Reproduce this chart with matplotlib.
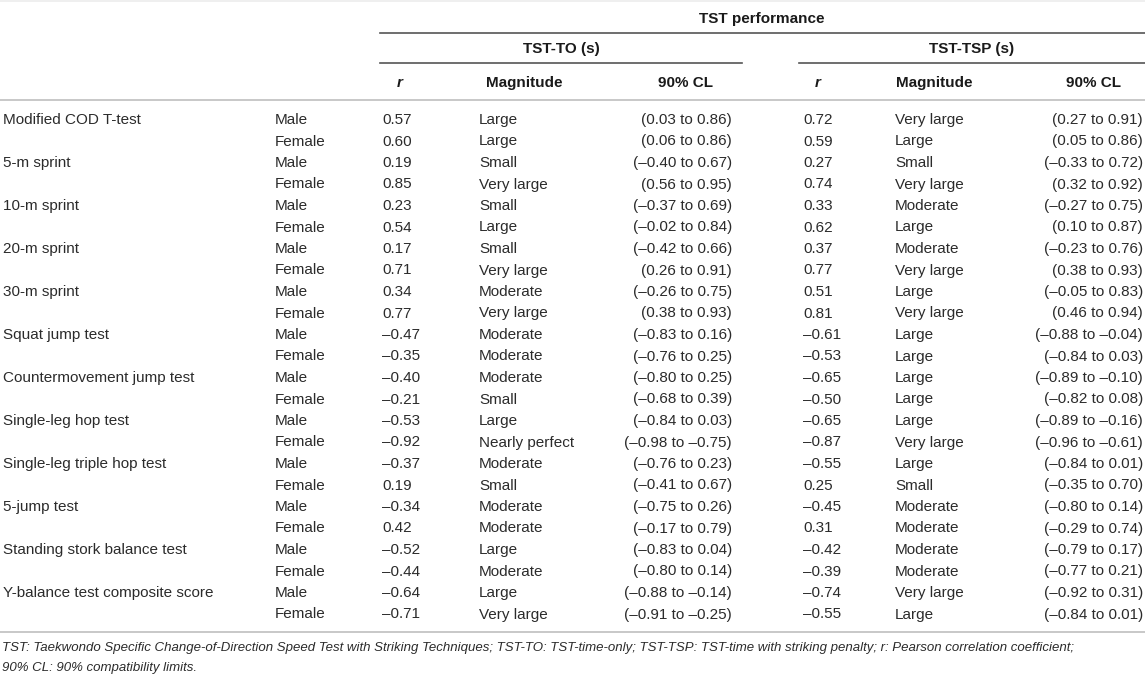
import matplotlib
matplotlib.use("Agg")
import matplotlib.pyplot as plt

plt.rcParams['font.family'] = ['Liberation Sans', 'DejaVu Sans']

# table data
tests = ["Modified COD T-test", "5-m sprint", "10-m sprint", "20-m sprint",
         "30-m sprint", "Squat jump test", "Countermovement jump test",
         "Single-leg hop test", "Single-leg triple hop test", "5-jump test",
         "Standing stork balance test", "Y-balance test composite score"]
sexes = ["Male", "Female"]

to_r = [0.57, 0.60, 0.19, 0.85, 0.23, 0.54, 0.17, 0.71, 0.34, 0.77,
        -0.47, -0.35, -0.40, -0.21, -0.53, -0.92, -0.37, 0.19, -0.34, 0.42,
        -0.52, -0.44, -0.64, -0.71]
to_mag = ["Large", "Large", "Small", "Very large", "Small", "Large",
          "Small", "Very large", "Moderate", "Very large", "Moderate", "Moderate",
          "Moderate", "Small", "Large", "Nearly perfect", "Moderate", "Small",
          "Moderate", "Moderate", "Large", "Moderate", "Large", "Very large"]
to_lo = [0.03, 0.06, -0.40, 0.56, -0.37, -0.02, -0.42, 0.26, -0.26, 0.38,
         -0.83, -0.76, -0.80, -0.68, -0.84, -0.98, -0.76, -0.41, -0.75, -0.17,
         -0.83, -0.80, -0.88, -0.91]
to_hi = [0.86, 0.86, 0.67, 0.95, 0.69, 0.84, 0.66, 0.91, 0.75, 0.93,
         0.16, 0.25, 0.25, 0.39, 0.03, -0.75, 0.23, 0.67, 0.26, 0.79,
         0.04, 0.14, -0.14, -0.25]

tsp_r = [0.72, 0.59, 0.27, 0.74, 0.33, 0.62, 0.37, 0.77, 0.51, 0.81,
         -0.61, -0.53, -0.65, -0.50, -0.65, -0.87, -0.55, 0.25, -0.45, 0.31,
         -0.42, -0.39, -0.74, -0.55]
tsp_mag = ["Very large", "Large", "Small", "Very large", "Moderate", "Large",
           "Moderate", "Very large", "Large", "Very large", "Large", "Large",
           "Large", "Large", "Large", "Very large", "Large", "Small",
           "Moderate", "Moderate", "Moderate", "Moderate", "Very large", "Large"]
tsp_lo = [0.27, 0.05, -0.33, 0.32, -0.27, 0.10, -0.23, 0.38, -0.05, 0.46,
          -0.88, -0.84, -0.89, -0.82, -0.89, -0.96, -0.84, -0.35, -0.80, -0.29,
          -0.79, -0.77, -0.92, -0.84]
tsp_hi = [0.91, 0.86, 0.72, 0.92, 0.75, 0.87, 0.76, 0.93, 0.83, 0.94,
          -0.04, 0.03, -0.10, 0.08, -0.16, -0.61, 0.01, 0.70, 0.14, 0.74,
          0.17, 0.21, 0.31, 0.01]

footnote = ["TST: Taekwondo Specific Change-of-Direction Speed Test with Striking "
            "Techniques; TST-TO: TST-time-only; TST-TSP: TST-time with striking "
            "penalty; r: Pearson correlation coefficient;",
            "90% CL: 90% compatibility limits."]


def fmt(v):
    s = f"{abs(v):.2f}"
    return "\u2013" + s if v < 0 else s


W, H = 1145, 677
fig = plt.figure(figsize=(W / 100, H / 100), dpi=100)
ax = fig.add_axes([0, 0, 1, 1])
ax.set_xlim(0, W)
ax.set_ylim(H, 0)
ax.axis("off")

dark = "#555555"
light = "#c4c4c4"
txt = "#2b2b2b"
fs = 11

# rules
ax.plot([0, W], [1, 1], color="#ececec", lw=1.2)
ax.plot([380, W], [33, 33], color=dark, lw=1.2)
ax.plot([380, 742], [63, 63], color=dark, lw=1.2)
ax.plot([799, W], [63, 63], color=dark, lw=1.2)
ax.plot([0, W], [100, 100], color=light, lw=1.3)
ax.plot([0, W], [632, 632], color=light, lw=1.3)

# header
hd = dict(fontsize=fs, fontweight="bold", color="#1a1a1a", va="center", ha="center")
ax.text(762, 19, "TST performance", **hd)
ax.text(561, 49, "TST-TO (s)", **hd)
ax.text(972, 49, "TST-TSP (s)", **hd)
ax.text(400, 83, "r", style="italic", **hd)
ax.text(486, 83, "Magnitude", **{**hd, "ha": "left"})
ax.text(685, 83, "90% CL", **hd)
ax.text(818, 83, "r", style="italic", **hd)
ax.text(896, 83, "Magnitude", **{**hd, "ha": "left"})
ax.text(1093, 83, "90% CL", **hd)

# body
y0, dy = 120, 21.5
cell = dict(fontsize=fs, color=txt, va="center")
for i in range(len(to_r)):
    y = y0 + i * dy
    if i % 2 == 0:
        ax.text(3, y, tests[i // 2], ha="left", **cell)
    ax.text(275, y, sexes[i % 2], ha="left", **cell)
    ax.text(382, y, fmt(to_r[i]), ha="left", **cell)
    ax.text(479, y, to_mag[i], ha="left", **cell)
    ax.text(732, y, f"({fmt(to_lo[i])} to {fmt(to_hi[i])})", ha="right", **cell)
    ax.text(803, y, fmt(tsp_r[i]), ha="left", **cell)
    ax.text(895, y, tsp_mag[i], ha="left", **cell)
    ax.text(1143, y, f"({fmt(tsp_lo[i])} to {fmt(tsp_hi[i])})", ha="right", **cell)

# footnote, sized so the first line spans the same width as in the source
r = fig.canvas.get_renderer()
probe = ax.text(2, 648, footnote[0], fontsize=10, style="italic")
w = probe.get_window_extent(renderer=r).width
probe.remove()
ffs = 10 * 1081 / w
for k, line in enumerate(footnote):
    ax.text(2, 648 + k * 20, line, fontsize=ffs, style="italic", color=txt,
            va="center", ha="left")

fig.savefig("out.png", dpi=100)
